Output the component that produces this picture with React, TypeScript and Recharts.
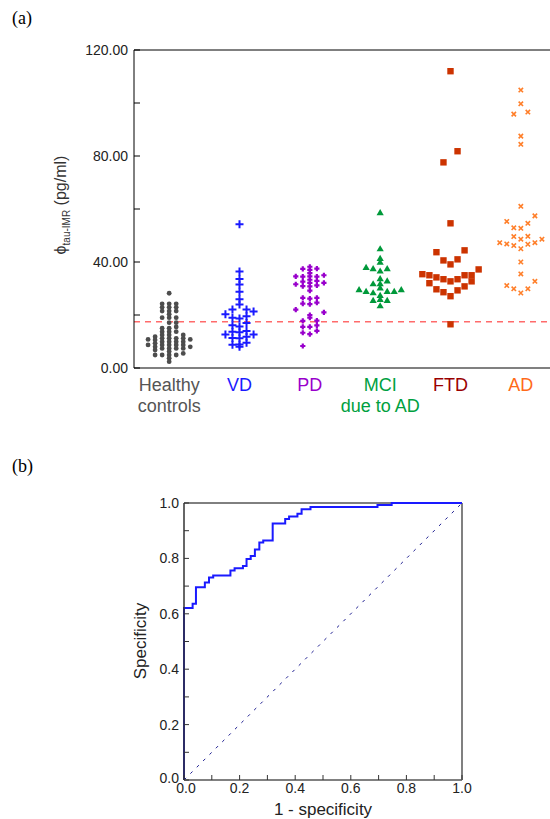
import React from "react";
import {
  ScatterChart,
  Scatter,
  XAxis,
  YAxis,
  ReferenceLine,
  LineChart,
  Line,
} from "recharts";

// ---- panel (a) data ----
const groupLines = [["Healthy", "controls"], ["VD"], ["PD"], ["MCI", "due to AD"], ["FTD"], ["AD"]];
const groupTicks = [0, 1, 2, 3, 4, 5];
const labelColors = ["#555555", "#1a1aff", "#9900cc", "#00a040", "#990000", "#ff6a1a"];
const yTicks = [0, 20, 40, 60, 80, 100, 120];
const cutoff = 17.5;

// values in pg/ml, cols = column of the swarm (0 = centre)
const healthyValues = [
  28.2, 24.2, 22.9, 21.5, 20.3, 19.0, 17.1, 15.0, 13.7, 12.5, 11.2, 9.9, 8.7, 7.4, 6.2, 4.9, 3.7, 2.4,
  24.2, 22.9, 21.5, 19.0, 15.0, 13.7, 12.5, 11.2, 9.9, 8.7, 7.4, 4.9,
  24.2, 22.9, 21.5, 19.0, 17.1, 15.5, 13.7, 11.2, 9.9, 8.7, 7.4, 4.9,
  11.8, 10.6, 9.3, 8.0, 6.8, 4.9,
  12.5, 11.2, 9.9, 8.7, 7.4, 5.5,
  10.8, 8.7,
  10.8, 8.0,
];
const healthyCols = [
  0, 0, 0, 0, 0, 0, 0, 0, 0, 0, 0, 0, 0, 0, 0, 0, 0, 0,
  -1, -1, -1, -1, -1, -1, -1, -1, -1, -1, -1, -1,
  1, 1, 1, 1, 1, 1, 1, 1, 1, 1, 1, 1,
  -2, -2, -2, -2, -2, -2,
  2, 2, 2, 2, 2, 2,
  -3, -3,
  3, 3,
];

const vdValues = [
  54.2, 36.4, 33.6, 31.5, 28.8, 25.9, 24.0, 18.7, 15.7, 13.5, 11.2, 8.9, 8.0,
  22.1, 19.0, 16.1, 13.7, 11.3, 8.8,
  22.1, 19.5, 17.0, 14.0, 11.8, 9.5,
  20.3, 12.6,
  21.3, 12.6,
];
const vdCols = [
  0, 0, 0, 0, 0, 0, 0, 0, 0, 0, 0, 0, 0,
  -1, -1, -1, -1, -1, -1,
  1, 1, 1, 1, 1, 1,
  -2, -2,
  2, 2,
];

const pdValues = [
  38.2, 37.0, 35.8, 34.6, 33.3, 32.1, 30.8, 29.2, 26.2, 24.1, 20.0, 19.0, 15.5, 12.8,
  37.4, 34.5, 32.6, 30.9, 26.5, 24.3, 17.8, 15.5, 13.3, 8.3,
  37.5, 34.5, 32.9, 31.2, 26.5, 24.7, 17.9, 16.1, 14.0,
  34.6, 31.6, 22.0,
  35.0, 32.1, 21.0,
];
const pdCols = [
  0, 0, 0, 0, 0, 0, 0, 0, 0, 0, 0, 0, 0, 0,
  -1, -1, -1, -1, -1, -1, -1, -1, -1, -1,
  1, 1, 1, 1, 1, 1, 1, 1, 1,
  -2, -2, -2,
  2, 2, 2,
];

const mciValues = [
  58.6, 45.0, 41.4, 39.9, 36.6, 33.7, 31.8, 30.2, 27.4, 25.9, 23.5,
  37.5, 31.8, 28.4, 25.5,
  37.5, 32.9, 28.9, 25.5,
  38.0, 28.9,
  28.9,
  29.6,
  29.6,
];
const mciCols = [0, 0, 0, 0, 0, 0, 0, 0, 0, 0, 0, -1, -1, -1, -1, 1, 1, 1, 1, -2, -2, 2, -3, 3];

const ftdValues = [
  112.0, 81.8, 77.6, 54.6, 43.7, 44.4, 40.6, 41.0, 39.1, 37.2, 35.4, 35.0, 34.2,
  33.5, 32.7, 33.5, 35.0, 35.0, 32.0, 32.7, 29.7, 28.6, 27.1, 29.3, 30.8, 16.5,
];
const ftdCols = [0, 1, -1, 0, -2, 2, -1, 1, 0, 4, -4, -3, -2, -1, 0, 1, 2, 3, -3, 3, -2, -1, 0, 1, 2, 0];

const adValues = [
  104.9, 99.7, 95.8, 96.6, 87.5, 84.4, 61.0, 57.4, 55.3, 54.6, 52.9, 52.7, 49.6, 49.7, 48.6,
  48.6, 47.3, 46.8, 46.2, 46.7, 47.3, 45.0, 40.0, 35.5, 32.7, 31.1, 29.9, 29.9, 28.3,
];
const adCols = [0, 0, -1, 1, 0, 0, 0, 2, -2, 1, -1, 0, -1, 1, 0, 3, -3, -2, -1, 1, 2, 0, 0, 0, 2, -2, -1, 1, 0];

// ---- panel (b) data ----
const rocFpr = [
  0, 0, 0.031, 0.043, 0.075, 0.09, 0.105, 0.167, 0.182, 0.212, 0.225, 0.24, 0.255, 0.271,
  0.285, 0.319, 0.364, 0.378, 0.408, 0.423, 0.455, 0.696, 0.747, 1.0,
];
const rocTpr = [
  0, 0.621, 0.636, 0.696, 0.713, 0.731, 0.738, 0.756, 0.764, 0.773, 0.798, 0.809, 0.832, 0.857,
  0.865, 0.926, 0.942, 0.951, 0.961, 0.977, 0.986, 0.993, 1.0, 1.0,
];
const rocTicks = [0, 0.1, 0.2, 0.3, 0.4, 0.5, 0.6, 0.7, 0.8, 0.9, 1.0];

const FONT = "'Liberation Sans', Arial, sans-serif";
const STEP = 0.1; // swarm column width in category units

const swarm = (gi: number, values: number[], cols: number[]) =>
  values.map((y, i) => ({ x: gi + cols[i] * STEP, y }));

// marker shapes
const dot = (p: any) => <circle cx={p.cx} cy={p.cy} r={2.4} fill="#4d4d4d" />;
const plus = (p: any) => (
  <path
    d={`M${p.cx - 4},${p.cy}H${p.cx + 4}M${p.cx},${p.cy - 4}V${p.cy + 4}`}
    stroke="#1a1aff"
    strokeWidth={2}
  />
);
const smallPlus = (p: any) => (
  <path
    d={`M${p.cx - 2.6},${p.cy}H${p.cx + 2.6}M${p.cx},${p.cy - 2.6}V${p.cy + 2.6}`}
    stroke="#9900cc"
    strokeWidth={2.2}
  />
);
const tri = (p: any) => (
  <polygon
    points={`${p.cx},${p.cy - 3.6} ${p.cx - 3.6},${p.cy + 2.6} ${p.cx + 3.6},${p.cy + 2.6}`}
    fill="#00993a"
  />
);
const square = (p: any) => <rect x={p.cx - 3.2} y={p.cy - 3.2} width={6.4} height={6.4} fill="#cc3300" />;
const ex = (p: any) => (
  <path
    d={`M${p.cx - 2.2},${p.cy - 2.2}L${p.cx + 2.2},${p.cy + 2.2}M${p.cx - 2.2},${p.cy + 2.2}L${p.cx + 2.2},${p.cy - 2.2}`}
    stroke="#ff7f2a"
    strokeWidth={1.6}
  />
);

const series = [
  { name: "Healthy controls", data: swarm(0, healthyValues, healthyCols), shape: dot },
  { name: "VD", data: swarm(1, vdValues, vdCols), shape: plus },
  { name: "PD", data: swarm(2, pdValues, pdCols), shape: smallPlus },
  { name: "MCI due to AD", data: swarm(3, mciValues, mciCols), shape: tri },
  { name: "FTD", data: swarm(4, ftdValues, ftdCols), shape: square },
  { name: "AD", data: swarm(5, adValues, adCols), shape: ex },
];

const rocData = rocFpr.map((x, i) => ({ x, y: rocTpr[i] }));

const GroupTick = (p: any) => {
  const v = p.payload.value;
  const lines = groupLines[v];
  return (
    <text x={p.x} y={p.y + 23} textAnchor="middle" fontSize={18} fontFamily={FONT} fill={labelColors[v]}>
      {lines.map((l, i) => (
        <tspan key={i} x={p.x} dy={i === 0 ? 0 : 21}>
          {l}
        </tspan>
      ))}
    </text>
  );
};

const ValueTick = (p: any) => {
  const v = p.payload.value;
  return (
    <g>
      <line x1={p.x} x2={p.x + 6} y1={p.y} y2={p.y} stroke="#000" />
      {v % 40 === 0 && (
        <text x={p.x - 6} y={p.y} dy={5} textAnchor="end" fontSize={14} fontFamily={FONT} fill="#222">
          {v.toFixed(2)}
        </text>
      )}
    </g>
  );
};

const RocXTick = (p: any) => {
  const v = p.payload.value;
  const major = Math.round(v * 10) % 2 === 0;
  return (
    <g>
      <line x1={p.x} x2={p.x} y1={p.y} y2={p.y - 5} stroke="#333" />
      {major && (
        <text x={p.x + (v === 0 ? 2 : 0)} y={p.y + 13} textAnchor="middle" fontSize={14} fontFamily={FONT} fill="#222">
          {v.toFixed(1)}
        </text>
      )}
    </g>
  );
};

const RocYTick = (p: any) => {
  const v = p.payload.value;
  const major = Math.round(v * 10) % 2 === 0;
  return (
    <g>
      <line x1={p.x} x2={p.x + 5} y1={p.y} y2={p.y} stroke="#333" />
      {major && (
        <text x={p.x - 5} y={p.y} dy={v === 0 ? 3 : 5} textAnchor="end" fontSize={14} fontFamily={FONT} fill="#222">
          {v.toFixed(1)}
        </text>
      )}
    </g>
  );
};

export default function App() {
  return (
    <div
      style={{
        position: "absolute",
        left: 0,
        top: 0,
        width: 550,
        height: 819,
        overflow: "hidden",
        background: "#fff",
      }}
    >
      <div style={{ position: "absolute", left: 0, top: 0 }}>
        <ScatterChart width={556} height={420} margin={{ top: 50, right: 0, bottom: 0, left: 0 }}>
          <XAxis
            type="number"
            dataKey="x"
            domain={[-0.5, 5.5]}
            ticks={groupTicks}
            interval={0}
            tick={(p: any) => <GroupTick {...p} />}
            tickLine={false}
            tickSize={0}
            tickMargin={0}
            height={52}
            axisLine={{ stroke: "#808080", strokeWidth: 2 }}
          />
          <YAxis
            type="number"
            dataKey="y"
            domain={[0, 120]}
            ticks={yTicks}
            interval={0}
            width={134}
            tick={(p: any) => <ValueTick {...p} />}
            tickLine={false}
            tickSize={0}
            tickMargin={0}
            axisLine={{ stroke: "#000" }}
          />
          <ReferenceLine y={120} stroke="#000" />
          <ReferenceLine y={cutoff} stroke="#ff6b6b" strokeDasharray="6 5" strokeWidth={1.5} />
          {series.map((s) => (
            <Scatter key={s.name} name={s.name} data={s.data} shape={s.shape} isAnimationActive={false} />
          ))}
        </ScatterChart>
      </div>

      <div style={{ position: "absolute", left: 0, top: 470 }}>
        <LineChart width={550} height={350} data={rocData} margin={{ top: 33, right: 88, bottom: 0, left: 0 }}>
          <XAxis
            type="number"
            dataKey="x"
            domain={[0, 1]}
            ticks={rocTicks}
            interval={0}
            tick={(p: any) => <RocXTick {...p} />}
            tickLine={false}
            tickSize={0}
            tickMargin={0}
            height={40}
            axisLine={{ stroke: "#808080", strokeWidth: 2 }}
          />
          <YAxis
            type="number"
            domain={[0, 1]}
            ticks={rocTicks}
            interval={0}
            width={184}
            tick={(p: any) => <RocYTick {...p} />}
            tickLine={false}
            tickSize={0}
            tickMargin={0}
            axisLine={{ stroke: "#333", strokeWidth: 1.5 }}
          />
          <ReferenceLine y={1} stroke="#000" />
          <ReferenceLine x={1} stroke="#808080" strokeWidth={2} />
          <ReferenceLine
            segment={[
              { x: 0, y: 0 },
              { x: 1, y: 1 },
            ]}
            stroke="#1c1c90"
            strokeDasharray="3 6"
          />
          <Line type="stepAfter" dataKey="y" stroke="#1a1aff" strokeWidth={2} dot={false} isAnimationActive={false} />
        </LineChart>
      </div>

      <svg
        width={550}
        height={819}
        style={{ position: "absolute", left: 0, top: 0, pointerEvents: "none" }}
      >
        <text x={12} y={24} fontSize={18} fontFamily="'Liberation Serif', 'Times New Roman', serif">
          (a)
        </text>
        <text x={12} y={472} fontSize={18} fontFamily="'Liberation Serif', 'Times New Roman', serif">
          (b)
        </text>
        <text
          transform="translate(66,205) rotate(-90)"
          textAnchor="middle"
          fontSize={16}
          fontFamily={FONT}
          fill="#333"
        >
          ϕ
          <tspan fontSize={10} dy={4}>
            tau-IMR
          </tspan>
          <tspan fontSize={16} dy={-4}>
            {" (pg/ml)"}
          </tspan>
        </text>
        <text
          transform="translate(146,641) rotate(-90)"
          textAnchor="middle"
          fontSize={17}
          fontFamily={FONT}
          fill="#222"
        >
          Specificity
        </text>
        <text x={323} y={815} textAnchor="middle" fontSize={17} fontFamily={FONT} fill="#222">
          1 - specificity
        </text>
      </svg>
    </div>
  );
}
